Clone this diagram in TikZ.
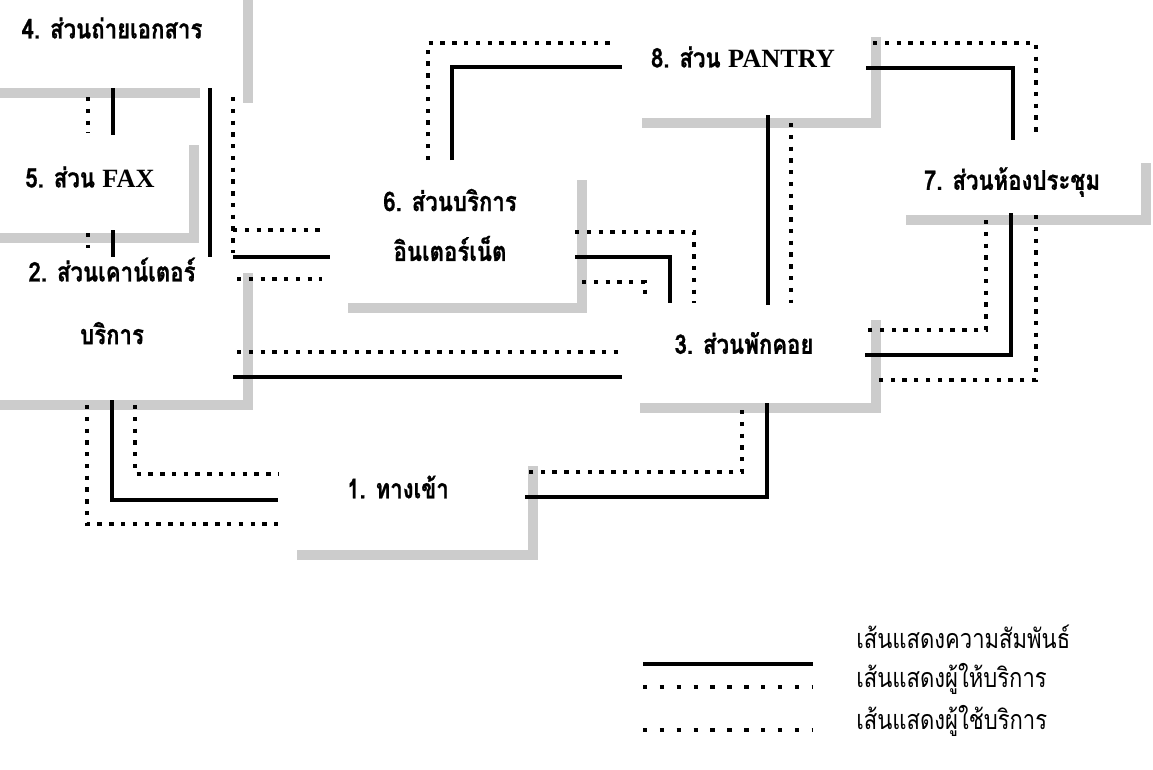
\documentclass[tikz,border=0pt]{standalone}
\usepackage{fontspec}
\setmainfont[Script=Thai, FakeStretch=0.82, BoldFeatures={FakeBold=0.8}]{Loma}
\newfontfamily\latinfont{Liberation Serif}
\usepackage{tikz}

\begin{document}
\begin{tikzpicture}[x=0.02cm, y=-0.02cm,
    relline/.style={line width=2.6pt},
    provline/.style={line width=2.5pt, dash pattern=on 2.5pt off 4.2pt},
    legdots/.style={line width=2.5pt, dash pattern=on 2.5pt off 7.1pt},
    zoneline/.style={line width=5.5pt, black!20},
    area/.style={font=\bfseries\fontsize{15.4}{18}\selectfont, inner sep=0pt, align=center},
    legtext/.style={font=\fontsize{15.3}{18}\selectfont, inner sep=0pt, anchor=west}]
\newcommand{\lat}[1]{{\latinfont\fontsize{15}{18}\selectfont #1}}
\useasboundingbox (0,0) rectangle (1153,769);

% gray borders of the areas
\draw[zoneline] (248,0) -- (248,103);
\draw[zoneline] (0,93) -- (200,93);
\draw[zoneline] (194,145) -- (194,238) -- (0,238);
\draw[zoneline] (248,273) -- (248,405) -- (0,405);
\draw[zoneline] (582,180) -- (582,308) -- (348,308);
\draw[zoneline] (642,123) -- (876,123) -- (876,37);
\draw[zoneline] (906,220) -- (1146,220) -- (1146,163);
\draw[zoneline] (876,320) -- (876,408) -- (640,408);
\draw[zoneline] (533,466) -- (533,555) -- (297,555);

% areas
\node[area] (copy) at (112,28) {4. ส่วนถ่ายเอกสาร};
\node[area] (fax) at (90,177) {5. ส่วน \lat{FAX}};
\node[area] (counter) at (112,301) {2. ส่วนเคาน์เตอร์\\[17.7pt]บริการ};
\node[area] (net) at (450,225) {6. ส่วนบริการ\\[10.4pt]อินเตอร์เน็ต};
\node[area] (pantry) at (743,57) {8. ส่วน \lat{PANTRY}};
\node[area] (meet) at (1012,182) {7. ส่วนห้องประชุม};
\node[area] (lounge) at (744,343) {3. ส่วนพักคอย};
\node[area] (entry) at (398,487) {1. ทางเข้า};

% copy - fax - counter
\draw[provline] (88,97) -- (88,133);
\draw[relline] (113,88) -- (113,135);
\draw[provline] (88,233) -- (88,248);
\draw[relline] (113,230) -- (113,257);
\draw[relline] (210,88) -- (210,257);
\draw[provline] (233,97) -- (233,253);

% counter - internet
\draw[provline] (233,230) -- (322,230);
\draw[relline] (233,257) -- (330,257);
\draw[provline] (237,279) -- (322,279);

% counter - lounge
\draw[provline] (237,352) -- (620,352);
\draw[relline] (233,377) -- (622,377);

% counter - entry
\draw[provline] (87,405) -- (87,524) -- (278,524);
\draw[relline] (112,400) -- (112,500) -- (278,500);
\draw[provline] (135,405) -- (135,474) -- (278,474);

% internet - pantry
\draw[provline] (428,160) -- (428,43) -- (613,43);
\draw[relline] (452,160) -- (452,67) -- (622,67);

% internet - lounge
\draw[provline] (575,232) -- (694,232) -- (694,303);
\draw[relline] (575,257) -- (670,257) -- (670,303);
\draw[provline] (582,282) -- (645,282) -- (645,297);

% pantry - lounge
\draw[relline] (768,115) -- (768,305);
\draw[provline] (791,123) -- (791,303);

% pantry - meeting
\draw[provline] (873,43) -- (1036,43) -- (1036,132);
\draw[relline] (866,68) -- (1013,68) -- (1013,140);

% meeting - lounge
\draw[provline] (986,220) -- (986,330) -- (868,330);
\draw[relline] (1011,213) -- (1011,355) -- (865,355);
\draw[provline] (1036,215) -- (1036,380) -- (873,380);

% lounge - entry
\draw[provline] (742,410) -- (742,472) -- (525,472);
\draw[relline] (767,403) -- (767,497) -- (525,497);

% legend
\draw[relline] (643,664) -- (813,664);
\draw[legdots] (643,687) -- (813,687);
\draw[legdots] (643,730) -- (813,730);
\node[legtext] (legrel) at (856,637) {เส้นแสดงความสัมพันธ์};
\node[legtext] (legprov) at (856,679) {เส้นแสดงผู้ให้บริการ};
\node[legtext] (leguser) at (856,721) {เส้นแสดงผู้ใช้บริการ};
\end{tikzpicture}
\end{document}
